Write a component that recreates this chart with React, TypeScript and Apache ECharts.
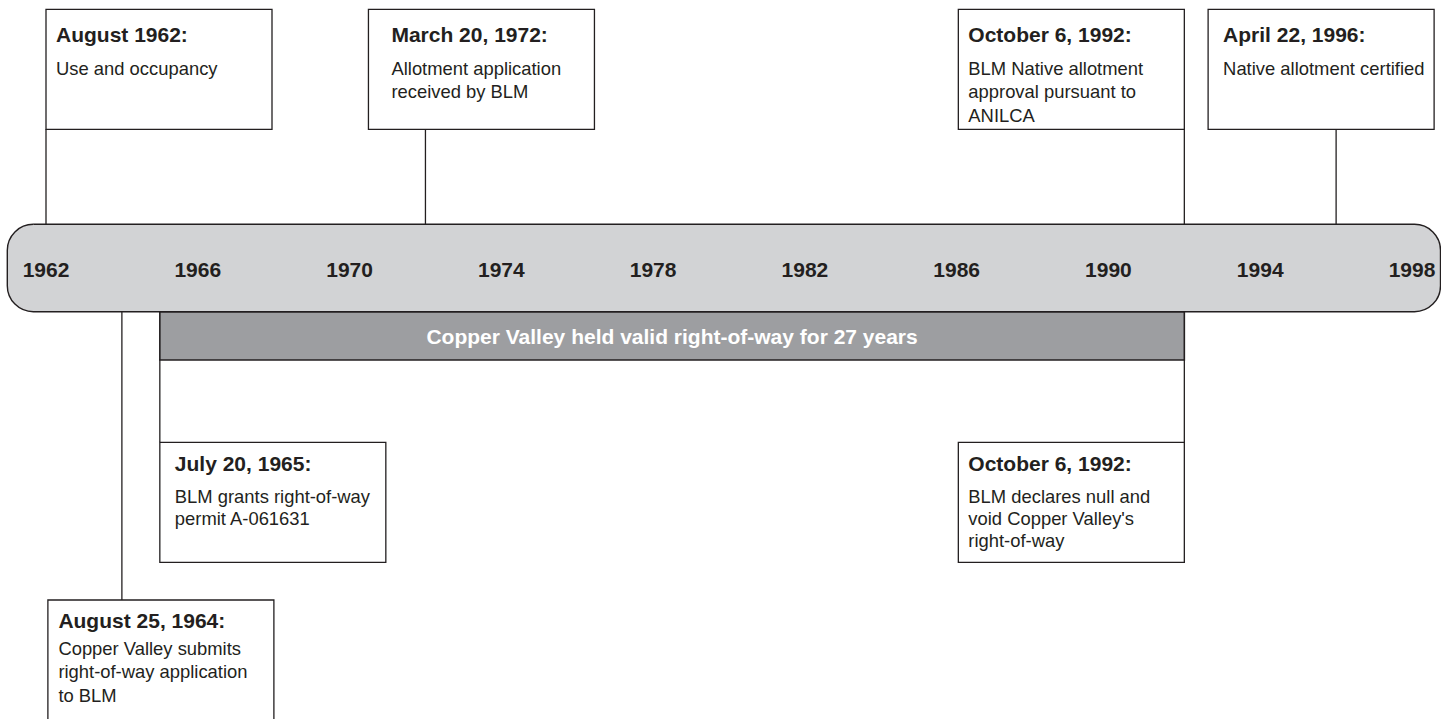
import React, { useEffect, useRef } from "react";
import * as echarts from "echarts";

// ---- data ----
const AXIS_MIN = 1962;
const AXIS_MAX = 1998;
const YEAR_TICKS = [1962, 1966, 1970, 1974, 1978, 1982, 1986, 1990, 1994, 1998];

const EVENT_YEARS = [1962, 1972, 1992, 1996, 1965, 1992, 1964];
const EVENT_TITLES = [
  "August 1962:",
  "March 20, 1972:",
  "October 6, 1992:",
  "April 22, 1996:",
  "July 20, 1965:",
  "October 6, 1992:",
  "August 25, 1964:",
];
const EVENT_TEXTS = [
  ["Use and occupancy"],
  ["Allotment application", "received by BLM"],
  ["BLM Native allotment", "approval pursuant to", "ANILCA"],
  ["Native allotment certified"],
  ["BLM grants right-of-way", "permit A-061631"],
  ["BLM declares null and", "void Copper Valley's", "right-of-way"],
  ["Copper Valley submits", "right-of-way application", "to BLM"],
];
const EVENT_SIDES = ["top", "top", "top", "top", "near", "near", "far"];

const PERIOD_START = 1965;
const PERIOD_END = 1992;
const PERIOD_LABEL = "Copper Valley held valid right-of-way for 27 years";

// ---- layout / style ----
const FONT = '"Liberation Sans", Arial, Helvetica, sans-serif';
const INK = "#231f20";
const BAR_FILL = "#d2d3d5";
const BAND_FILL = "#9d9ea1";
const BOX_W = 226;
const BOX_H = 120;
const BOX_DX = [0, -57, -226, -128, 0, -226, -74];
const BOX_PAD = [10, 23, 10, 15, 15, 10, 10.5];
const BOX_LAYOUT: Record<string, any> = {
  top: { boxTop: 9.3, lineFrom: 129.3, lineTo: 224.3, title: 25.1, body: 59.3, lh: 23.3 },
  near: { boxTop: 442.3, lineFrom: 360, lineTo: 442.3, title: 20.7, body: 54.6, lh: 22 },
  far: { boxTop: 600, lineFrom: 311.7, lineTo: 600, title: 20, body: 48.6, lh: 23.3 },
};
const BAR_TOP = 224.3;
const BAR_BOTTOM = 311.7;
const BAR_PAD_L = 38.7;
const BAR_PAD_R = 28.5;
const BAND_TOP = 312;
const BAND_BOTTOM = 360;

export default function App() {
  const ref = useRef<HTMLDivElement>(null);

  useEffect(() => {
    document.body.style.margin = "0";
    document.body.style.overflow = "hidden";
    if (!ref.current) return;
    const chart = echarts.init(ref.current, undefined, { renderer: "svg" });

    const option: any = {
      animation: false,
      backgroundColor: "#ffffff",
      grid: { left: 46, right: 29, top: 0, bottom: 450 },
      xAxis: {
        type: "value",
        min: AXIS_MIN,
        max: AXIS_MAX,
        interval: 4,
        z: 10,
        axisLine: { show: false },
        axisTick: { show: false },
        splitLine: { show: false },
        axisLabel: {
          customValues: YEAR_TICKS,
          showMinLabel: true,
          showMaxLabel: true,
          margin: 0,
          verticalAlign: "middle",
          fontSize: 21,
          fontWeight: "bold",
          fontFamily: FONT,
          color: INK,
          formatter: (v: number) => String(v),
        },
      },
      yAxis: { type: "value", min: 0, max: 1, show: false },
      series: [
        {
          type: "custom",
          name: "timeline",
          clip: false,
          silent: true,
          data: [[AXIS_MIN, AXIS_MAX]],
          renderItem: (params: any, api: any) => {
            const x0 = api.coord([api.value(0), 0])[0] - BAR_PAD_L;
            const x1 = api.coord([api.value(1), 0])[0] + BAR_PAD_R;
            return {
              type: "rect",
              shape: { x: x0, y: BAR_TOP, width: x1 - x0, height: BAR_BOTTOM - BAR_TOP, r: 26 },
              style: { fill: BAR_FILL, stroke: INK, lineWidth: 1.4 },
            };
          },
        },
        {
          type: "custom",
          name: "period",
          clip: false,
          silent: true,
          data: [[PERIOD_START, PERIOD_END]],
          renderItem: (params: any, api: any) => {
            const x0 = api.coord([api.value(0), 0])[0];
            const x1 = api.coord([api.value(1), 0])[0];
            return {
              type: "group",
              children: [
                {
                  type: "rect",
                  shape: { x: x0, y: BAND_TOP, width: x1 - x0, height: BAND_BOTTOM - BAND_TOP },
                  style: { fill: BAND_FILL, stroke: INK, lineWidth: 1.6 },
                },
                {
                  type: "text",
                  style: {
                    text: PERIOD_LABEL,
                    x: (x0 + x1) / 2,
                    y: (BAND_TOP + BAND_BOTTOM) / 2,
                    font: `bold 21px ${FONT}`,
                    fill: "#ffffff",
                    textAlign: "center",
                    textVerticalAlign: "middle",
                  },
                },
              ],
            };
          },
        },
        {
          type: "custom",
          name: "events",
          clip: false,
          silent: true,
          data: EVENT_YEARS.map((y, i) => [y, i]),
          renderItem: (params: any, api: any) => {
            const i = api.value(1);
            const x = api.coord([api.value(0), 0])[0];
            const L = BOX_LAYOUT[EVENT_SIDES[i]];
            const bx = x + BOX_DX[i];
            const tx = bx + BOX_PAD[i];
            const children: any[] = [
              {
                type: "line",
                shape: { x1: x, y1: L.lineFrom, x2: x, y2: L.lineTo },
                style: { stroke: INK, lineWidth: 1.3 },
              },
              {
                type: "rect",
                shape: { x: bx, y: L.boxTop, width: BOX_W, height: BOX_H },
                style: { fill: "#ffffff", stroke: INK, lineWidth: 1.3 },
              },
              {
                type: "text",
                style: {
                  text: EVENT_TITLES[i],
                  x: tx,
                  y: L.boxTop + L.title,
                  font: `bold 21px ${FONT}`,
                  fill: INK,
                  textAlign: "left",
                  textVerticalAlign: "middle",
                },
              },
            ];
            EVENT_TEXTS[i].forEach((t, k) => {
              children.push({
                type: "text",
                style: {
                  text: t,
                  x: tx,
                  y: L.boxTop + L.body + k * L.lh,
                  font: `18.4px ${FONT}`,
                  fill: INK,
                  textAlign: "left",
                  textVerticalAlign: "middle",
                },
              });
            });
            return { type: "group", children };
          },
        },
      ],
    };

    chart.setOption(option);
    return () => chart.dispose();
  }, []);

  return <div ref={ref} style={{ width: 1441, height: 719 }} />;
}
